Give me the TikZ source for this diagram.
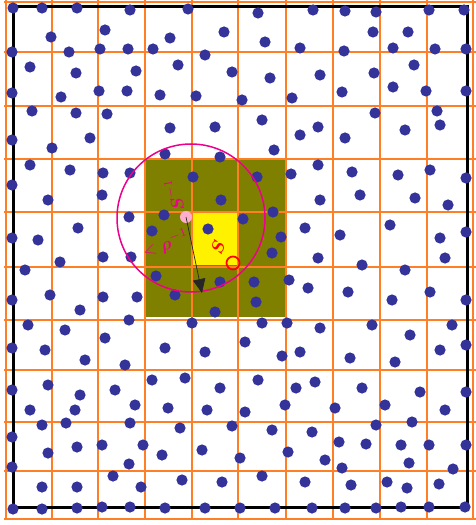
\documentclass[tikz,border=0pt]{standalone}
\usepackage{amsmath}
\usepackage{amssymb}
\usepackage{tikz}
\usetikzlibrary{arrows.meta,positioning}
\definecolor{dotblue}{RGB}{51,51,153}
\definecolor{gridorange}{RGB}{255,127,39}
\definecolor{cellolive}{RGB}{128,128,0}
\definecolor{pinkdot}{RGB}{255,175,205}

\begin{document}
\begin{tikzpicture}[x=0.2mm, y=-0.2mm,
    cellline/.style={draw=gridorange, line width=0.4mm},
    wall/.style={draw=black, line width=0.6mm},
    particle/.style={fill=dotblue},
    cutoff/.style={circle, draw=magenta, line width=0.3mm, inner sep=0pt, minimum size=29.6mm},
    lbl/.style={text=magenta, inner sep=0pt, font=\normalsize},
    arrow/.style={-{Triangle[length=2.8mm, width=2.5mm]}, thin, draw=black!85}
  ]
    \useasboundingbox (0,0) rectangle (476,525);
    \fill[cellolive] (145,159) rectangle (286,317);
    \fill[yellow] (192,212) rectangle (238,265);
    \foreach \gx in {6,52,98,145,192,238,286,333,380,427,473}
      \draw[cellline] (\gx,0) -- (\gx,520);
    \foreach \gy in {2,52,106,159,212,267,320,370,422,471,519}
      \draw[cellline] (4,\gy) -- (476,\gy);
    \draw[wall] (13,7) rectangle (467,507);
    \foreach \px/\py in {13/8,42/8,77/8,130/10,105/30,51/37,12/52,69/52,100/49,128/49,153/49,
        30/67,76/73,136/71,12/93,61/97,99/91,127/91,32/111,76/113,107/114,
        345/11,376/12,429/10,464/10,373/32,408/32,344/51,393/48,435/49,466/49,414/65,374/73,
        342/92,393/87,426/91,466/91,375/113,437/111,
        188/9,258/13,313/10,224/32,170/38,265/42,300/48,205/55,178/65,232/72,270/78,320/75,
        160/95,196/96,242/100,292/98,262/120,215/127,170/128,318/127,
        165/154,220/157,274/150,103/173,130/173,193/177,257/177,291/174,102/195,221/200,
        273/212,129/217,164/215,243/219,152/231,208/229,281/237,103/257,131/257,272/253,
        156/276,220/282,254/282,289/280,103/297,137/297,175/295,256/302,215/312,129/320,
        192/323,262/323,287/323,
        12/140,52/148,90/138,30/165,70/170,12/185,48/200,12/238,38/240,78/228,60/262,25/270,
        12/300,50/295,80/310,28/325,65/330,105/338,12/348,45/350,85/360,125/365,12/390,
        48/385,80/395,115/390,30/410,75/410,135/405,
        300/135,345/138,405/130,440/125,318/165,352/172,398/175,430/170,466/178,320/200,
        360/195,415/198,448/205,305/228,340/235,390/225,440/238,466/232,318/258,362/265,
        405/270,445/258,308/288,348/292,392/300,430/292,466/300,320/328,372/325,410/335,
        452/325,300/352,350/358,395/362,440/350,466/345,315/382,362/388,420/392,466/392,
        335/408,385/405,445/410,
        165/348,205/352,245/342,282/356,152/380,185/378,220/388,258/380,296/388,168/408,
        207/410,245/412,285/405,180/428,232/426,272/430,312/432,162/455,202/450,240/458,
        288/452,325/460,182/480,222/482,262/476,305/482,165/508,205/508,240/508,275/508,
        312/508,
        376/425,412/422,339/442,366/444,401/445,429/445,466/445,342/468,409/463,453/469,
        351/485,387/482,407/488,439/484,345/508,376/508,401/507,429/507,465/507,
        42/425,66/423,130/423,12/437,48/453,77/447,102/445,143/445,12/467,129/464,
        113/476,42/487,77/487,141/487,13/509,42/509,77/508,102/507,130/507}
      \fill[particle] (\px,\py) circle (1.12mm);
    \node[cutoff] (rcut) at (191,218) {};
    \node[circle, fill=pinkdot, inner sep=0pt, minimum size=2.4mm] (pi) at (186,217) {};
    \coordinate (tip) at (202,293);
    \draw[arrow] (pi.center) -- (tip);
    \node[circle, draw=red, line width=0.35mm, inner sep=0pt, minimum size=2.6mm] (ring) at (233,263) {};
    \node[lbl, rotate=100] (sinv) at (174,195) {$\boldsymbol{S}^{-1}$};
    \node[lbl, rotate=20] (rhoinv) at (166,244) {$<\boldsymbol{\rho}^{-1}$};
    \node[lbl, text=red, rotate=70] (scell) at (218,247) {$\boldsymbol{S}$};
  \end{tikzpicture}
\end{document}
